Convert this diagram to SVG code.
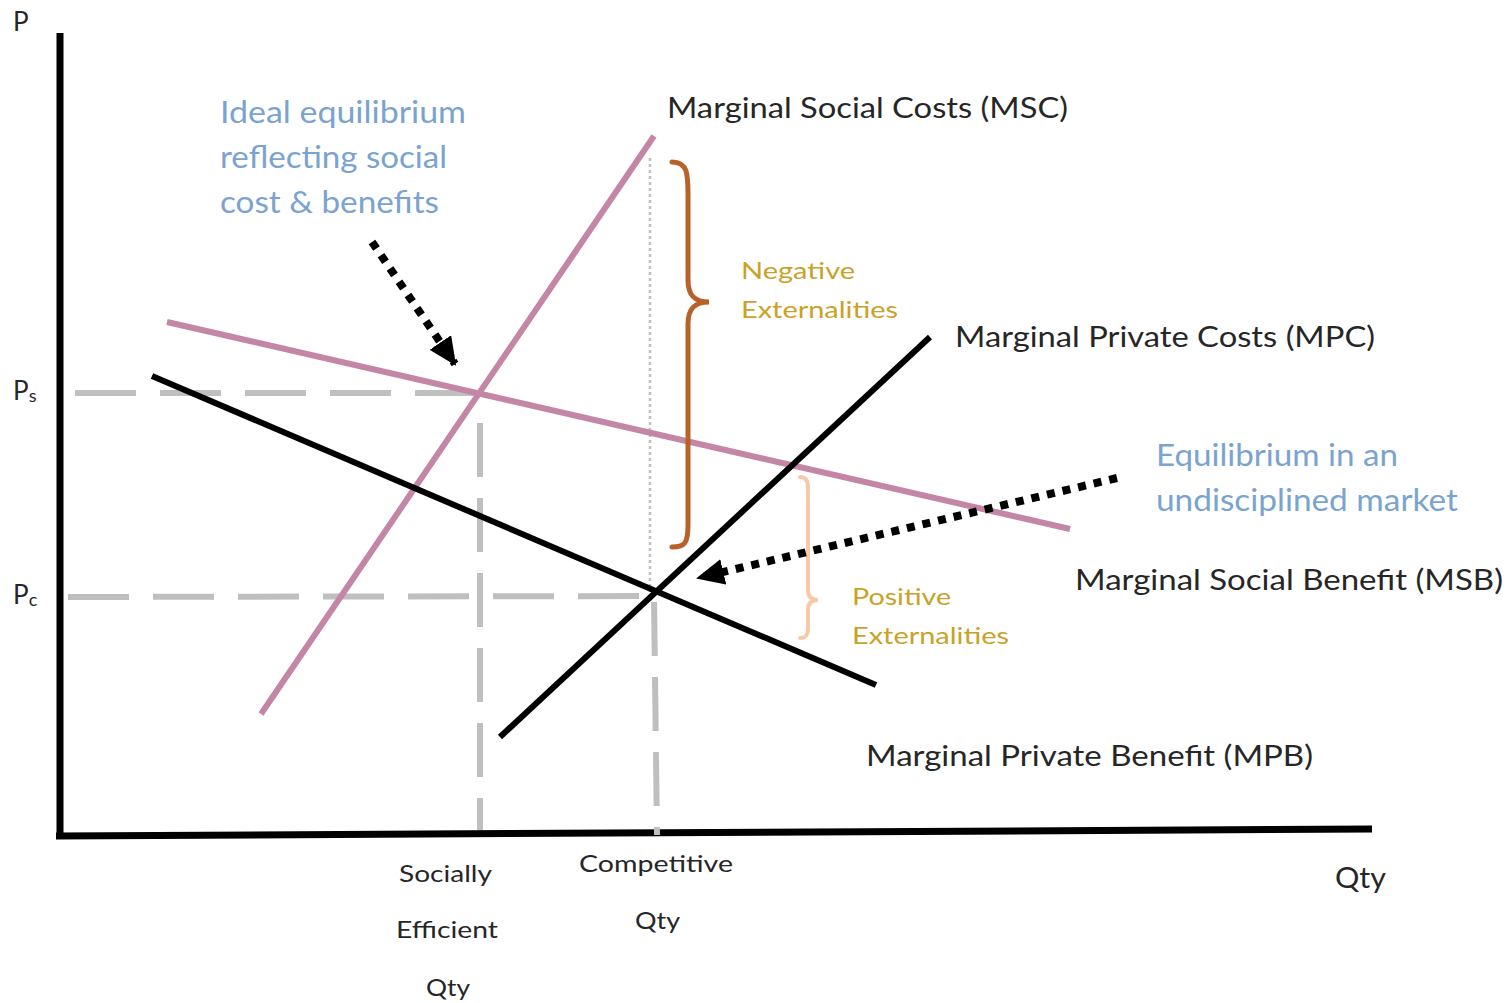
<svg xmlns="http://www.w3.org/2000/svg" width="1508" height="1003" viewBox="0 0 1508 1003">
<style>
text{font-family:Lato,"Liberation Sans",sans-serif;}
.lbl{fill:#262626;font-size:29px;}
.ax{fill:#262626;font-size:26px;}
.qty{fill:#262626;font-size:24px;}
.blue{fill:#7ba3cf;font-size:30px;}
.gold{fill:#c9a227;font-size:24px;}
.pink{stroke:#c486a6;stroke-width:6;fill:none;}
.blk{stroke:#000;stroke-width:6;fill:none;}
.hdash{stroke:#bfbfbf;stroke-width:6;stroke-dasharray:61 24;fill:none;}
.vdash{stroke:#bfbfbf;stroke-width:6;stroke-dasharray:54 21;fill:none;}
.dots{stroke:#000;stroke-width:8;stroke-dasharray:8 8;fill:none;}
</style>
<defs>
<marker id="ah" markerUnits="userSpaceOnUse" markerWidth="28" markerHeight="26" viewBox="0 0 28 26" refX="26" refY="13" orient="auto">
<path d="M0,0 L28,13 L0,26 z" fill="#000"/>
</marker>
</defs>
<rect width="1508" height="1003" fill="#fff"/>
<g id="axes">
<line x1="60" y1="33" x2="60" y2="839" stroke="#000" stroke-width="7"/>
<line x1="56" y1="836" x2="1372" y2="829" stroke="#000" stroke-width="7"/>
<text class="ax" x="13" y="31">P</text>
<text class="ax" x="13" y="400">P<tspan font-size="18" dy="2">s</tspan></text>
<text class="ax" x="13" y="604">P<tspan font-size="18" dy="2">c</tspan></text>
<text class="lbl" x="1335" y="888" textLength="51" lengthAdjust="spacingAndGlyphs">Qty</text>
</g>
<g id="guides">
<line class="hdash" x1="75" y1="393" x2="480" y2="393"/>
<line class="hdash" x1="68" y1="597" x2="655" y2="596"/>
<line class="vdash" x1="480" y1="402" x2="480" y2="830" stroke-dashoffset="54"/>
<line class="vdash" x1="654" y1="597" x2="657" y2="835" stroke-dashoffset="-5"/>
<line x1="650" y1="158" x2="650" y2="592" stroke="#bfbfbf" stroke-width="2.5" stroke-dasharray="3 3"/>
</g>
<g id="msc">
<line class="pink" x1="261" y1="714" x2="654" y2="136"/>
<text class="lbl" x="667" y="118" textLength="401" lengthAdjust="spacingAndGlyphs">Marginal Social Costs (MSC)</text>
</g>
<g id="msb">
<line class="pink" x1="167" y1="322" x2="1070" y2="529"/>
<text class="lbl" x="1075" y="590" textLength="428" lengthAdjust="spacingAndGlyphs">Marginal Social Benefit (MSB)</text>
</g>
<g id="mpb">
<line class="blk" x1="152" y1="376" x2="876" y2="685"/>
<text class="lbl" x="866" y="766" textLength="447" lengthAdjust="spacingAndGlyphs">Marginal Private Benefit (MPB)</text>
</g>
<g id="mpc">
<line class="blk" x1="500" y1="737" x2="930" y2="337"/>
<text class="lbl" x="955" y="347" textLength="420" lengthAdjust="spacingAndGlyphs">Marginal Private Costs (MPC)</text>
</g>
<g id="negative-externalities">
<path d="M672,162 C688,162 688,175 688,195 L688,280 C688,296 695,302 709,302 C695,302 688,308 688,324 L688,525 C688,543 685,547 672,547" fill="none" stroke="#b8622a" stroke-width="5" stroke-linecap="round"/>
<text class="gold" x="741" y="279" textLength="114" lengthAdjust="spacingAndGlyphs">Negative</text>
<text class="gold" x="741" y="318" textLength="157" lengthAdjust="spacingAndGlyphs">Externalities</text>
</g>
<g id="positive-externalities">
<path d="M800,477 C807,477 808,482 808,490 L808,590 C808,597 812,600 818,600 C812,600 808,603 808,610 L808,628 C808,635 806,638 800,638" fill="none" stroke="#f7c9a8" stroke-width="4" stroke-linecap="round"/>
<text class="gold" x="852" y="605" textLength="99" lengthAdjust="spacingAndGlyphs">Positive</text>
<text class="gold" x="852" y="644" textLength="157" lengthAdjust="spacingAndGlyphs">Externalities</text>
</g>
<g id="ideal-equilibrium">
<text class="blue" x="220" y="123" textLength="246" lengthAdjust="spacingAndGlyphs">Ideal equilibrium</text>
<text class="blue" x="220" y="168" textLength="227" lengthAdjust="spacingAndGlyphs">reflecting social</text>
<text class="blue" x="220" y="213" textLength="219" lengthAdjust="spacingAndGlyphs">cost &amp; benefits</text>
</g>
<g id="undisciplined-equilibrium">
<text class="blue" x="1156" y="466" textLength="242" lengthAdjust="spacingAndGlyphs">Equilibrium in an</text>
<text class="blue" x="1156" y="511" textLength="302" lengthAdjust="spacingAndGlyphs">undisciplined market</text>
</g>
<g id="qty-labels">
<text class="qty" x="399" y="882" textLength="93" lengthAdjust="spacingAndGlyphs">Socially</text>
<text class="qty" x="396" y="938" textLength="102" lengthAdjust="spacingAndGlyphs">Efficient</text>
<text class="qty" x="426" y="996" textLength="44" lengthAdjust="spacingAndGlyphs">Qty</text>
<text class="qty" x="579" y="872" textLength="154" lengthAdjust="spacingAndGlyphs">Competitive</text>
<text class="qty" x="635" y="929" textLength="45" lengthAdjust="spacingAndGlyphs">Qty</text>
</g>
<g id="connectors">
<line class="dots" x1="372" y1="242" x2="455" y2="364" stroke-width="7" stroke-dasharray="7 9" marker-end="url(#ah)"/>
<line class="dots" x1="1117" y1="478" x2="698" y2="578" marker-end="url(#ah)"/>
</g>
</svg>
